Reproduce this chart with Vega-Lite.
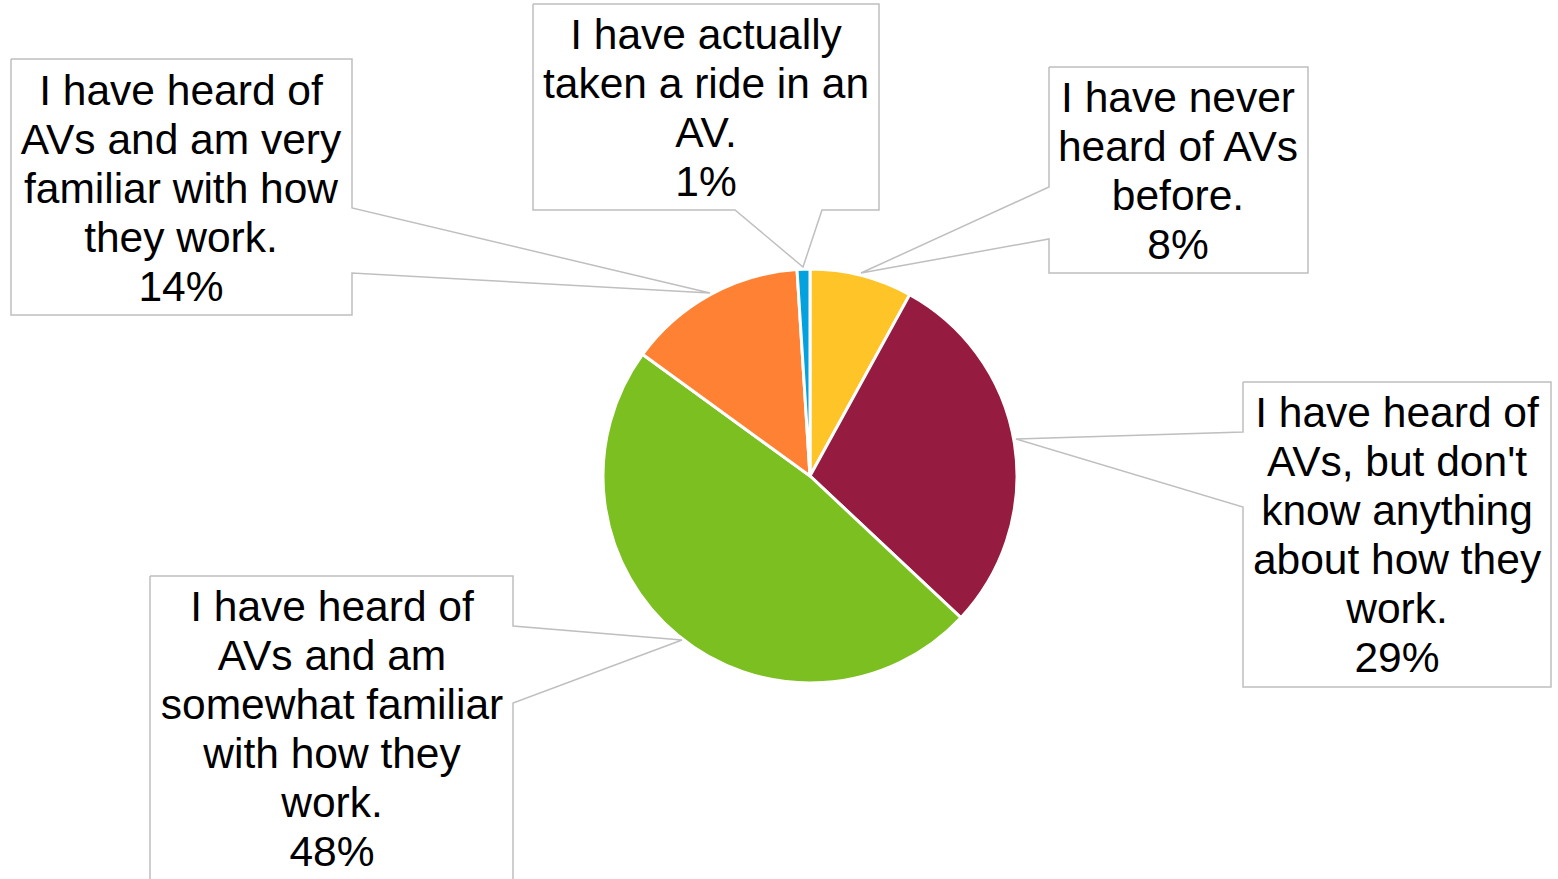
{
  "$schema": "https://vega.github.io/schema/vega-lite/v6.json",
  "width": 1558,
  "height": 879,
  "padding": 0,
  "autosize": {"type": "none"},
  "background": "white",
  "config": {"view": {"stroke": null}},
  "datasets": {
    "shares": [
      {"rank": 1, "answer": "I have never heard of AVs before.", "share": 8},
      {"rank": 2, "answer": "I have heard of AVs, but don't know anything about how they work.", "share": 29},
      {"rank": 3, "answer": "I have heard of AVs and am somewhat familiar with how they work.", "share": 48},
      {"rank": 4, "answer": "I have heard of AVs and am very familiar with how they work.", "share": 14},
      {"rank": 5, "answer": "I have actually taken a ride in an AV.", "share": 1}
    ],
    "callouts": [
      {"answer": "I have never heard of AVs before.", "label": "I have never\nheard of AVs\nbefore.\n8%", "tx": 1178, "ty": 99},
      {"answer": "I have heard of AVs, but don't know anything about how they work.", "label": "I have heard of\nAVs, but don't\nknow anything\nabout how they\nwork.\n29%", "tx": 1397, "ty": 414},
      {"answer": "I have heard of AVs and am somewhat familiar with how they work.", "label": "I have heard of\nAVs and am\nsomewhat familiar\nwith how they\nwork.\n48%", "tx": 332, "ty": 608},
      {"answer": "I have heard of AVs and am very familiar with how they work.", "label": "I have heard of\nAVs and am very\nfamiliar with how\nthey work.\n14%", "tx": 181, "ty": 92},
      {"answer": "I have actually taken a ride in an AV.", "label": "I have actually\ntaken a ride in an\nAV.\n1%", "tx": 706, "ty": 36}
    ],
    "outlines": [
      {"answer": "never", "pt": 1, "px": 1049, "py": 67},
      {"answer": "never", "pt": 2, "px": 1308, "py": 67},
      {"answer": "never", "pt": 3, "px": 1308, "py": 273},
      {"answer": "never", "pt": 4, "px": 1049, "py": 273},
      {"answer": "never", "pt": 5, "px": 1049, "py": 239},
      {"answer": "never", "pt": 6, "px": 861, "py": 273},
      {"answer": "never", "pt": 7, "px": 1049, "py": 187},
      {"answer": "never", "pt": 8, "px": 1049, "py": 67},
      {"answer": "dontknow", "pt": 1, "px": 1243, "py": 382},
      {"answer": "dontknow", "pt": 2, "px": 1551, "py": 382},
      {"answer": "dontknow", "pt": 3, "px": 1551, "py": 687},
      {"answer": "dontknow", "pt": 4, "px": 1243, "py": 687},
      {"answer": "dontknow", "pt": 5, "px": 1243, "py": 507},
      {"answer": "dontknow", "pt": 6, "px": 1016, "py": 439},
      {"answer": "dontknow", "pt": 7, "px": 1243, "py": 432},
      {"answer": "dontknow", "pt": 8, "px": 1243, "py": 382},
      {"answer": "somewhat", "pt": 1, "px": 150, "py": 576},
      {"answer": "somewhat", "pt": 2, "px": 513, "py": 576},
      {"answer": "somewhat", "pt": 3, "px": 513, "py": 626},
      {"answer": "somewhat", "pt": 4, "px": 682, "py": 640},
      {"answer": "somewhat", "pt": 5, "px": 513, "py": 703},
      {"answer": "somewhat", "pt": 6, "px": 513, "py": 895},
      {"answer": "somewhat", "pt": 7, "px": 150, "py": 895},
      {"answer": "somewhat", "pt": 8, "px": 150, "py": 576},
      {"answer": "very", "pt": 1, "px": 11, "py": 59},
      {"answer": "very", "pt": 2, "px": 352, "py": 59},
      {"answer": "very", "pt": 3, "px": 352, "py": 208},
      {"answer": "very", "pt": 4, "px": 710, "py": 293},
      {"answer": "very", "pt": 5, "px": 352, "py": 273},
      {"answer": "very", "pt": 6, "px": 352, "py": 315},
      {"answer": "very", "pt": 7, "px": 11, "py": 315},
      {"answer": "very", "pt": 8, "px": 11, "py": 59},
      {"answer": "ride", "pt": 1, "px": 533, "py": 4},
      {"answer": "ride", "pt": 2, "px": 879, "py": 4},
      {"answer": "ride", "pt": 3, "px": 879, "py": 210},
      {"answer": "ride", "pt": 4, "px": 822, "py": 210},
      {"answer": "ride", "pt": 5, "px": 803, "py": 267},
      {"answer": "ride", "pt": 6, "px": 735, "py": 210},
      {"answer": "ride", "pt": 7, "px": 533, "py": 210},
      {"answer": "ride", "pt": 8, "px": 533, "py": 4}
    ]
  },
  "layer": [
    {
      "data": {"name": "shares"},
      "mark": {"type": "arc", "radius": 207, "stroke": "white", "strokeWidth": 3},
      "encoding": {
        "theta": {"field": "share", "type": "quantitative", "stack": true},
        "order": {"field": "rank", "type": "quantitative"},
        "color": {
          "field": "answer",
          "type": "nominal",
          "legend": null,
          "scale": {
            "domain": [
              "I have never heard of AVs before.",
              "I have heard of AVs, but don't know anything about how they work.",
              "I have heard of AVs and am somewhat familiar with how they work.",
              "I have heard of AVs and am very familiar with how they work.",
              "I have actually taken a ride in an AV."
            ],
            "range": ["#FFC428", "#951C40", "#7BBF21", "#FF8133", "#03A2DF"]
          }
        },
        "x": {"datum": 810, "type": "quantitative", "scale": {"domain": [0, 1558], "nice": false, "zero": false}, "axis": null},
        "y": {"datum": 476, "type": "quantitative", "scale": {"domain": [0, 879], "nice": false, "zero": false, "reverse": true}, "axis": null}
      }
    },
    {
      "data": {"name": "outlines"},
      "mark": {"type": "line", "color": "#BFBFBF", "strokeWidth": 1.5, "clip": true, "strokeJoin": "miter"},
      "encoding": {
        "x": {"field": "px", "type": "quantitative"},
        "y": {"field": "py", "type": "quantitative"},
        "order": {"field": "pt", "type": "quantitative"},
        "detail": {"field": "answer", "type": "nominal"}
      }
    },
    {
      "data": {"name": "callouts"},
      "mark": {"type": "text", "font": "Liberation Sans", "fontSize": 42.5, "lineHeight": 49, "lineBreak": "\n", "align": "center", "baseline": "middle", "color": "#000000"},
      "encoding": {
        "x": {"field": "tx", "type": "quantitative"},
        "y": {"field": "ty", "type": "quantitative"},
        "text": {"field": "label", "type": "nominal"}
      }
    }
  ]
}
